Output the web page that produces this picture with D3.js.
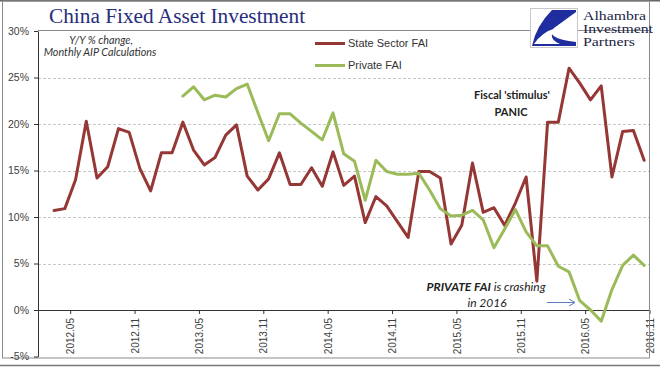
<!DOCTYPE html>
<html><head><meta charset="utf-8">
<script src="https://cdn.jsdelivr.net/npm/d3@7"></script>
<style>body{margin:0;background:#fff}svg{display:block}</style>
</head><body>
<svg id="chart" width="660" height="367"></svg>
<script>
const months = [
 "2012.04","2012.05","2012.06","2012.07","2012.08","2012.09","2012.10","2012.11","2012.12",
 "2013.01","2013.02","2013.03","2013.04","2013.05","2013.06","2013.07","2013.08","2013.09","2013.10","2013.11","2013.12",
 "2014.01","2014.02","2014.03","2014.04","2014.05","2014.06","2014.07","2014.08","2014.09","2014.10","2014.11","2014.12",
 "2015.01","2015.02","2015.03","2015.04","2015.05","2015.06","2015.07","2015.08","2015.09","2015.10","2015.11","2015.12",
 "2016.01","2016.02","2016.03","2016.04","2016.05","2016.06","2016.07","2016.08","2016.09","2016.10","2016.11"];
const stateFAI = [10.7,10.9,14.0,20.3,14.2,15.4,19.5,19.1,15.2,12.8,16.9,16.9,20.2,17.2,15.6,16.4,18.8,19.9,14.4,12.9,
 14.1,16.9,13.5,13.5,15.3,13.3,17.0,13.4,14.4,9.4,12.2,11.2,9.5,7.8,14.9,14.9,14.2,7.1,9.1,15.8,
 10.5,11.0,9.1,11.5,14.3,3.1,20.2,20.2,26.0,24.4,22.6,24.1,14.3,19.2,19.3,16.1];
const privateFAI = [null,null,null,null,null,null,null,null,null,null,null,null,
 23.0,24.0,22.6,23.1,22.9,23.8,24.3,21.2,18.2,21.1,21.1,20.1,19.2,18.3,21.2,16.8,16.0,11.8,
 16.1,14.9,14.6,14.6,14.7,12.9,10.9,10.1,10.2,10.7,9.7,6.7,8.7,10.8,8.4,6.9,6.9,4.7,4.1,1.0,
 0.0,-1.2,2.2,4.8,5.9,4.8];
const xTickLabels = ["2012.05","2012.11","2013.05","2013.11","2014.05","2014.11","2015.05","2015.11","2016.05","2016.11"];
const yTicks = [-5,0,5,10,15,20,25,30];
const seriesNames = ["State Sector FAI","Private FAI"];
const seriesColors = ["#953735","#9bbb59"];

const svg = d3.select("#chart");
const L = 38, R = 649.5, T = 31, B = 356.5;
const x = d3.scaleLinear().domain([-1.5, months.length - 0.5]).range([L, R]);
const y = d3.scaleLinear().domain([-5, 30]).range([B, T]);
const idx = m => months.indexOf(m);

// outer frame
svg.append("line").attr("x1",0).attr("x2",660).attr("y1",0.5).attr("y2",0.5).attr("stroke","#666").attr("stroke-width",2);
svg.append("rect").attr("x",2.5).attr("y",1).attr("width",647).attr("height",357).attr("fill","none").attr("stroke","#8a8a8a");
svg.append("line").attr("x1",0).attr("x2",660).attr("y1",365.5).attr("y2",365.5).attr("stroke","#777").attr("stroke-width",1.5);

// gridlines
svg.append("g").selectAll("line").data(yTicks.filter(v => v > 0 && v < 30)).join("line")
  .attr("x1",L).attr("x2",R).attr("y1",d=>Math.round(y(d))+0.5).attr("y2",d=>Math.round(y(d))+0.5)
  .attr("stroke","#c8c8c8").attr("stroke-dasharray","3,2");
// plot top border
svg.append("line").attr("x1",L).attr("x2",R).attr("y1",30.5).attr("y2",30.5).attr("stroke","#8a8a8a");

// y axis
const yAxis = svg.append("g").attr("transform",`translate(${L},0)`)
  .call(d3.axisLeft(y).tickValues(yTicks).tickFormat(d => d + "%").tickSize(4).tickSizeOuter(0).tickPadding(5));
yAxis.select(".domain").attr("stroke","#333");
yAxis.selectAll(".tick line").attr("stroke","#333");
yAxis.selectAll("text").attr("font-family","'Liberation Sans', Arial, sans-serif").attr("font-size","10.5px").attr("fill","#404040");

// x axis at 0%
const xAxis = svg.append("g").attr("transform",`translate(0,${y(0)})`)
  .call(d3.axisBottom(x).tickValues(xTickLabels.map(l => idx(l) + 0.5)).tickFormat((d,i) => xTickLabels[i]).tickSize(4).tickSizeOuter(0));
xAxis.select(".domain").attr("stroke","#333");
xAxis.selectAll(".tick line").attr("stroke","#333");
xAxis.selectAll("text").attr("font-family","'Liberation Sans Narrow', 'Liberation Sans', Arial, sans-serif").attr("font-size","10px").attr("fill","#404040")
  .attr("transform","rotate(-90)").attr("x",-8).attr("y",0).attr("dy","0.36em").attr("text-anchor","end");

// plot right border
svg.append("line").attr("x1",R).attr("x2",R).attr("y1",30).attr("y2",358).attr("stroke","#8a8a8a");

// lines
const line = d3.line().defined(d => d.v !== null).x(d => x(d.i)).y(d => y(d.v));
[stateFAI, privateFAI].forEach((s, k) => {
  svg.append("path").datum(s.map((v,i)=>({i, v})))
    .attr("d", line).attr("fill","none").attr("stroke",seriesColors[k]).attr("stroke-width",3)
    .attr("stroke-linejoin","round").attr("stroke-linecap","round");
});

// legend
seriesNames.forEach((n,k) => {
  const ly = 43.5 + k*22;
  svg.append("line").attr("x1",315).attr("x2",345).attr("y1",ly).attr("y2",ly).attr("stroke",seriesColors[k]).attr("stroke-width",3);
  svg.append("text").attr("x",348).attr("y",ly).attr("dy","0.35em").text(n)
    .attr("font-family","'Liberation Sans', Arial, sans-serif").attr("font-size","11px").attr("fill","#333");
});

// title
svg.append("text").attr("x",49).attr("y",23).text("China Fixed Asset Investment")
  .attr("font-family","'Liberation Serif', 'Times New Roman', serif").attr("font-size","21.3px").attr("fill","#262e7c");

// subtitle
const sub = svg.append("text").attr("font-family","Lato, 'Open Sans', sans-serif").attr("font-style","italic").attr("font-size","10.8px").attr("fill","#333").attr("text-anchor","middle");
sub.append("tspan").attr("x",101).attr("y",44).text("Y/Y % change,");
sub.append("tspan").attr("x",100).attr("y",56).text("Monthly AIP Calculations");

// annotations
const a1 = svg.append("text").attr("font-family","Lato, 'Open Sans', sans-serif").attr("font-weight","bold").attr("font-size","11px").attr("fill","#222").attr("text-anchor","middle");
a1.append("tspan").attr("x",512).attr("y",99).text("Fiscal 'stimulus'");
a1.append("tspan").attr("x",511).attr("y",116).text("PANIC");

const a2 = svg.append("text").attr("font-family","Lato, 'Open Sans', sans-serif").attr("font-style","italic").attr("font-size","12px").attr("fill","#222").attr("text-anchor","middle");
const t1 = a2.append("tspan").attr("x",486).attr("y",291);
t1.append("tspan").attr("font-weight","bold").text("PRIVATE FAI");
t1.append("tspan").text(" is crashing");
a2.append("tspan").attr("x",487).attr("y",307).text("in 2016");

// arrow
svg.append("path").attr("d","M547,302.5 L575,302.5 M569,299 L575,302.5 L569,306").attr("fill","none").attr("stroke","#5b7dc0").attr("stroke-width",1);

// logo
const lg = svg.append("g").attr("transform","translate(530,8)");
lg.append("rect").attr("x",0.5).attr("y",0.5).attr("width",47).attr("height",39).attr("fill","#fff").attr("stroke","#c8c8c8");
lg.append("path").attr("d","M22,2 L46,2 L46,4 L24,20 Q14,30 46,34 L46,38 L2,38 Q6,18 22,2 Z").attr("fill","#1f2d9e");
lg.append("path").attr("d","M4,36 Q12,24 26,20 Q16,30 30,36 Z").attr("fill","#fff");
const logoWords = ["Alhambra","Investment","Partners"];
const logoWidths = [63,70,52];
logoWords.forEach((w,i) => svg.append("text").attr("x",583).attr("y",19.5 + i*13.4).text(w)
  .attr("font-family","'Liberation Serif', 'Times New Roman', serif").attr("font-size","12px").attr("fill","#1c1f45")
  .attr("textLength",logoWidths[i]).attr("lengthAdjust","spacingAndGlyphs"));
</script>
</body></html>
